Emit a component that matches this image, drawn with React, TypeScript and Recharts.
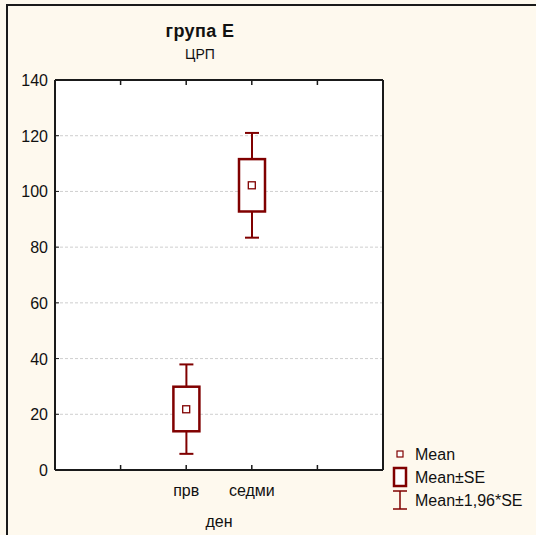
import React from 'react';
import { ComposedChart, Bar, Scatter, XAxis, YAxis, CartesianGrid } from 'recharts';

const days = ['прв', 'седми'];
const means = [21.8, 102.2];
const seLow = [13.9, 92.8];
const seHigh = [29.9, 111.6];
const ciLow = [5.8, 83.4];
const ciHigh = [37.9, 121.0];
const yTicks = [0, 20, 40, 60, 80, 100, 120, 140];
const xTicks = [0, 1, 2, 3, 4, 5];
const legendLabels = ['Mean', 'Mean±SE', 'Mean±1,96*SE'];

const RED = '#800000';
const INK = '#1a1a1a';
const FONT = '"Liberation Sans", Arial, sans-serif';

// the two days sit on the middle ticks of a 0..5 axis, like the original
const rows = days.map((d, i) => ({
  x: i + 2,
  day: d,
  mean: means[i],
  se: [seLow[i], seHigh[i]],
  ci: [ciLow[i], ciHigh[i]],
}));

const BottomTick = (props: any) => {
  const { x, y, payload } = props;
  const row = rows.find((r) => r.x === payload.value);
  const inner = payload.value > 0 && payload.value < 5;
  return (
    <g>
      {inner && <line x1={x} y1={y - 1} x2={x} y2={y - 5} stroke={INK} strokeWidth={1.5} />}
      {row && (
        <text x={x} y={y + 26} textAnchor="middle" fontSize={16} fontFamily={FONT} fill="#111">
          {row.day}
        </text>
      )}
    </g>
  );
};

const TopTick = (props: any) => {
  const { x, y, payload } = props;
  if (payload.value <= 0 || payload.value >= 5) return <g />;
  return <line x1={x} y1={y + 1} x2={x} y2={y + 5} stroke={INK} strokeWidth={1.5} />;
};

const LeftTick = (props: any) => {
  const { x, y, payload } = props;
  return (
    <g>
      <line x1={x + 1} y1={y} x2={x + 4} y2={y} stroke={INK} strokeWidth={1} />
      <text x={x - 7} y={y + 6} textAnchor="end" fontSize={16} fontFamily={FONT} fill="#111">
        {payload.value}
      </text>
    </g>
  );
};

const RightTick = (props: any) => {
  const { x, y } = props;
  return <line x1={x - 1} y1={y} x2={x - 4} y2={y} stroke={INK} strokeWidth={1} />;
};

const Whisker = (props: any) => {
  const { x, y, width, height } = props;
  const cx = x + width / 2;
  return (
    <g stroke={RED} strokeWidth={2}>
      <line x1={cx} y1={y} x2={cx} y2={y + height} />
      <line x1={x} y1={y} x2={x + width} y2={y} />
      <line x1={x} y1={y + height} x2={x + width} y2={y + height} />
    </g>
  );
};

const SeBox = (props: any) => {
  const { x, y, width, height } = props;
  return <rect x={x} y={y} width={width} height={height} fill="#fff" stroke={RED} strokeWidth={2.5} />;
};

const MeanMark = (props: any) => {
  const { cx, cy } = props;
  return <rect x={cx - 3.5} y={cy - 3.5} width={7} height={7} fill="#fff" stroke={RED} strokeWidth={1.3} />;
};

function LegendBox() {
  return (
    <svg width={150} height={70} style={{ position: 'absolute', left: 386, top: 444 }}>
      <rect x={11} y={7} width={6} height={6} fill="#fff" stroke={RED} strokeWidth={1.2} />
      <rect x={8} y={24} width={12} height={18} fill="#fff" stroke={RED} strokeWidth={2.5} />
      <g stroke={RED} strokeWidth={1.5}>
        <line x1={7} y1={47} x2={21} y2={47} />
        <line x1={14} y1={47} x2={14} y2={65} />
        <line x1={7} y1={65} x2={21} y2={65} />
      </g>
      {legendLabels.map((l, i) => (
        <text key={l} x={29} y={16 + i * 23} fontSize={16} fontFamily={FONT} fill="#111">
          {l}
        </text>
      ))}
    </svg>
  );
}

export default function App() {
  return (
    <div
      style={{
        position: 'fixed',
        left: 0,
        top: 0,
        width: 536,
        height: 535,
        background: '#fef9ee',
        overflow: 'hidden',
        fontFamily: FONT,
      }}
    >
      <div
        style={{
          position: 'absolute',
          left: 6,
          top: 4,
          width: 600,
          height: 600,
          borderLeft: `2px solid ${INK}`,
          borderTop: `2px solid ${INK}`,
        }}
      />
      <div
        style={{
          position: 'absolute',
          left: 100,
          width: 200,
          top: 21,
          textAlign: 'center',
          fontSize: 18,
          fontWeight: 'bold',
          color: '#111',
          letterSpacing: 0.4,
        }}
      >
        група Е
      </div>
      <div
        style={{
          position: 'absolute',
          left: 100,
          width: 200,
          top: 46,
          textAlign: 'center',
          fontSize: 14,
          color: '#111',
        }}
      >
        ЦРП
      </div>
      <div style={{ position: 'absolute', left: 0, top: 0 }}>
        <ComposedChart
          width={536}
          height={535}
          data={rows}
          margin={{ top: 79, right: 152, bottom: 64, left: 54 }}
        >
          <CartesianGrid
            xAxisId="b"
            yAxisId="l"
            vertical={false}
            fill="#ffffff"
            stroke="#cfcfcf"
            strokeDasharray="3 2"
          />
          <XAxis
            xAxisId="b"
            dataKey="x"
            type="number"
            domain={[0, 5]}
            ticks={xTicks}
            height={1}
            tickSize={0}
            tickMargin={0}
            tickLine={false}
            tick={<BottomTick />}
            axisLine={{ stroke: INK, strokeWidth: 2 }}
            interval={0}
          />
          <XAxis
            xAxisId="t"
            orientation="top"
            dataKey="x"
            type="number"
            domain={[0, 5]}
            ticks={xTicks}
            height={1}
            tickSize={0}
            tickMargin={0}
            tickLine={false}
            tick={<TopTick />}
            axisLine={{ stroke: INK, strokeWidth: 2 }}
            interval={0}
          />
          <YAxis
            yAxisId="l"
            type="number"
            domain={[0, 140]}
            ticks={yTicks}
            width={1}
            tickSize={0}
            tickMargin={0}
            tickLine={false}
            tick={<LeftTick />}
            axisLine={{ stroke: INK, strokeWidth: 2 }}
            interval={0}
          />
          <YAxis
            yAxisId="r"
            orientation="right"
            type="number"
            domain={[0, 140]}
            ticks={yTicks}
            width={1}
            tickSize={0}
            tickMargin={0}
            tickLine={false}
            tick={<RightTick />}
            axisLine={{ stroke: INK, strokeWidth: 2 }}
            interval={0}
          />
          <Bar
            xAxisId="b"
            yAxisId="l"
            dataKey="ci"
            barSize={14}
            shape={<Whisker />}
            isAnimationActive={false}
          />
          <Bar
            xAxisId="t"
            yAxisId="l"
            dataKey="se"
            barSize={26}
            shape={<SeBox />}
            isAnimationActive={false}
          />
          <Scatter
            xAxisId="b"
            yAxisId="l"
            data={rows}
            dataKey="mean"
            shape={<MeanMark />}
            isAnimationActive={false}
          />
        </ComposedChart>
      </div>
      <LegendBox />
      <div
        style={{
          position: 'absolute',
          left: 119,
          width: 200,
          top: 513,
          textAlign: 'center',
          fontSize: 16,
          color: '#111',
        }}
      >
        ден
      </div>
    </div>
  );
}
